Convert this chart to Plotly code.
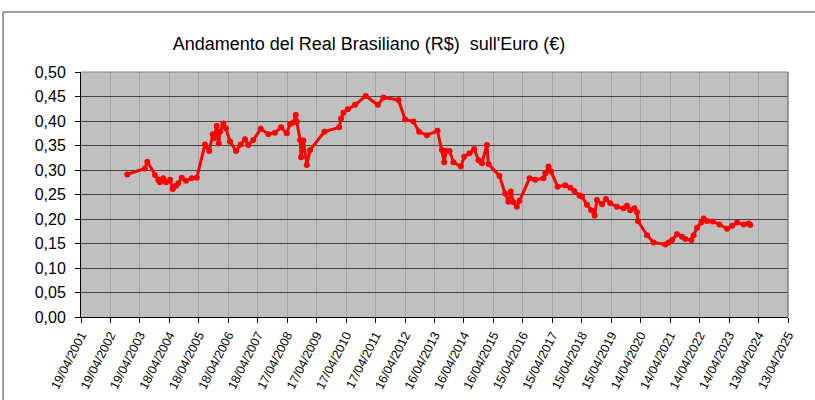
import plotly.graph_objects as go
from datetime import datetime

# ---- data ----
dates = [
    "2002-11-13", "2003-06-20", "2003-07-19", "2003-10-22", "2003-12-02", "2003-12-23",
    "2004-02-02", "2004-03-07", "2004-04-26", "2004-05-30", "2004-07-09", "2004-08-07",
    "2004-09-18", "2004-11-10", "2005-01-20", "2005-03-23", "2005-07-03", "2005-08-26",
    "2005-10-07", "2005-10-23", "2005-11-25", "2005-12-20", "2006-01-05", "2006-02-15",
    "2006-03-20", "2006-05-09", "2006-07-23", "2006-09-19", "2006-11-11", "2006-12-22",
    "2007-02-22", "2007-05-25", "2007-08-27", "2007-11-18", "2008-01-31", "2008-04-12",
    "2008-05-23", "2008-07-02", "2008-08-01", "2008-08-14", "2008-09-24", "2008-10-06",
    "2008-11-04", "2008-12-16", "2009-01-26", "2009-07-22", "2010-01-20", "2010-02-14",
    "2010-03-14", "2010-05-08", "2010-08-06", "2010-12-16", "2011-05-15", "2011-07-23",
    "2012-01-25", "2012-04-17", "2012-07-29", "2012-10-08", "2013-01-12", "2013-05-23",
    "2013-07-17", "2013-08-14", "2013-09-08", "2013-10-19", "2013-12-07", "2014-03-08",
    "2014-04-19", "2014-06-24", "2014-08-21", "2014-10-13", "2014-11-24", "2015-01-25",
    "2015-02-14", "2015-06-30", "2015-09-08", "2015-10-19", "2015-11-18", "2015-12-20",
    "2016-01-31", "2016-03-04", "2016-07-07", "2016-09-15", "2016-12-27", "2017-01-17",
    "2017-02-27", "2017-03-29", "2017-06-19", "2017-09-22", "2017-11-23", "2018-01-12",
    "2018-03-18", "2018-04-17", "2018-06-18", "2018-08-10", "2018-09-21", "2018-10-20",
    "2018-12-21", "2019-02-09", "2019-04-03", "2019-06-24", "2019-09-14", "2019-10-26",
    "2019-12-06", "2020-01-29", "2020-02-27", "2020-03-11", "2020-07-01", "2020-09-21",
    "2021-02-13", "2021-03-26", "2021-05-08", "2021-07-08", "2021-09-08", "2021-10-19",
    "2022-01-01", "2022-01-30", "2022-03-13", "2022-05-06", "2022-06-03", "2022-07-15",
    "2022-09-22", "2022-12-14", "2023-03-20", "2023-05-21", "2023-07-21", "2023-10-11",
    "2023-12-12", "2024-01-02",
]
values = [
    0.291, 0.303, 0.317, 0.290, 0.280, 0.275,
    0.283, 0.275, 0.280, 0.261, 0.268, 0.273,
    0.284, 0.278, 0.283, 0.284, 0.352, 0.339,
    0.373, 0.365, 0.390, 0.354, 0.378, 0.395,
    0.385, 0.358, 0.339, 0.352, 0.363, 0.351,
    0.361, 0.384, 0.373, 0.376, 0.387, 0.375,
    0.394, 0.397, 0.412, 0.399, 0.361, 0.326,
    0.360, 0.310, 0.341, 0.378, 0.387, 0.405,
    0.417, 0.424, 0.433, 0.451, 0.433, 0.448,
    0.443, 0.403, 0.399, 0.378, 0.371, 0.380,
    0.341, 0.316, 0.339, 0.339, 0.316, 0.307,
    0.327, 0.334, 0.343, 0.320, 0.314, 0.351,
    0.312, 0.288, 0.252, 0.235, 0.256, 0.234,
    0.225, 0.237, 0.283, 0.280, 0.283, 0.293,
    0.307, 0.297, 0.266, 0.269, 0.264, 0.257,
    0.248, 0.246, 0.229, 0.218, 0.207, 0.239,
    0.230, 0.241, 0.232, 0.225, 0.222, 0.227,
    0.218, 0.222, 0.214, 0.196, 0.167, 0.152,
    0.148, 0.152, 0.157, 0.169, 0.164, 0.159,
    0.157, 0.167, 0.182, 0.193, 0.201, 0.196,
    0.195, 0.189, 0.180, 0.186, 0.193, 0.189,
    0.191, 0.188,
]

x_tick_labels = [
    "19/04/2001", "19/04/2002", "19/04/2003", "18/04/2004", "18/04/2005",
    "18/04/2006", "18/04/2007", "17/04/2008", "17/04/2009", "17/04/2010",
    "17/04/2011", "16/04/2012", "16/04/2013", "16/04/2014", "16/04/2015",
    "15/04/2016", "15/04/2017", "15/04/2018", "15/04/2019", "14/04/2020",
    "14/04/2021", "14/04/2022", "14/04/2023", "13/04/2024", "13/04/2025",
]
x_tick_vals = [datetime.strptime(s, "%d/%m/%Y").strftime("%Y-%m-%d") for s in x_tick_labels]

title_text = "Andamento del Real Brasiliano (R$)  sull'Euro (€)"

FONT = "Liberation Sans, Arial, sans-serif"

fig = go.Figure()
fig.add_trace(go.Scatter(
    x=dates, y=values, mode="lines+markers",
    line=dict(color="#FF0000", width=3),
    marker=dict(color="#FF0000", size=6, symbol="circle"),
    showlegend=False, hoverinfo="x+y",
))

fig.update_layout(
    width=815, height=400,
    margin=dict(l=81, r=27, t=72, b=83, autoexpand=False),
    paper_bgcolor="white",
    plot_bgcolor="#C0C0C0",
    separators=",.",
    font=dict(family=FONT, color="black"),
    title=dict(text=title_text, x=369 / 815, xanchor="center", xref="container",
               y=1 - 44 / 400, yanchor="middle", yref="container",
               font=dict(family=FONT, size=18, color="black")),
    xaxis=dict(
        type="date", automargin=False,
        range=[x_tick_vals[0], x_tick_vals[-1]],
        tickmode="array", tickvals=x_tick_vals, ticktext=x_tick_labels,
        tickangle=-63, tickfont=dict(family=FONT, size=12.5, color="black"),
        ticks="outside", ticklen=5, tickcolor="black",
        showgrid=True, gridcolor="#A4A4A4", gridwidth=1,
        showline=True, linecolor="black", linewidth=1,
        zeroline=False, fixedrange=True,
    ),
    yaxis=dict(
        automargin=False,
        range=[0, 0.5], tickmode="linear", tick0=0, dtick=0.05,
        tickformat=".2f", tickfont=dict(family=FONT, size=16, color="black"),
        ticks="outside", ticklen=5, tickcolor="black", ticklabelstandoff=6,
        showgrid=True, gridcolor="#444444", gridwidth=1,
        showline=True, linecolor="black", linewidth=1,
        zeroline=False, fixedrange=True,
    ),
    shapes=[
        # right and top edge of the plot area
        dict(type="line", xref="paper", yref="paper", x0=1, x1=1, y0=0, y1=1,
             line=dict(color="#808080", width=1.5)),
        dict(type="line", xref="paper", yref="paper", x0=0, x1=1, y0=1, y1=1,
             line=dict(color="#808080", width=1)),
        # outer chart border
        dict(type="rect", xref="paper", yref="paper",
             x0=-0.1103, x1=1.06, y0=-0.40, y1=1.245,
             line=dict(color="#404040", width=1), fillcolor="rgba(0,0,0,0)"),
    ],
)

fig.write_html(
    "out.html",
    config={"displayModeBar": False},
    post_script="document.body.style.margin='0';document.body.style.overflow='hidden';",
)
